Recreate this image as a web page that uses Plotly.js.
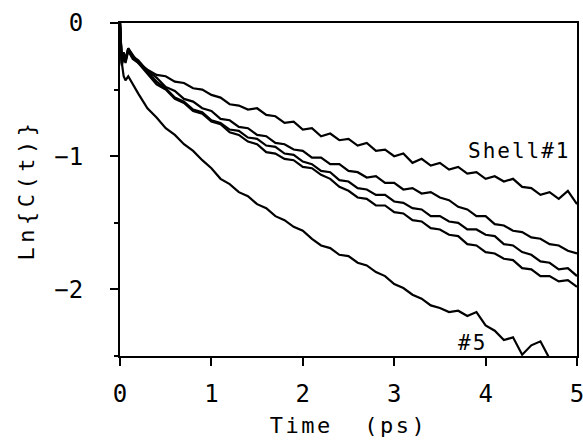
<!DOCTYPE html>
<html>
<head>
<meta charset="utf-8">
<script src="https://cdn.plot.ly/plotly-3.0.1.min.js"></script>
<style>
  html, body { margin: 0; padding: 0; background: #fff; }
  #chart { width: 583px; height: 442px; }
  .xtitle { letter-spacing: 2.5px; }
  .ytitle { letter-spacing: 4.5px; }
  .annotation-text { letter-spacing: 2px; }
</style>
</head>
<body>
<div id="chart"></div>
<script>
// Time (ps)
const time = [0, 0.02, 0.04, 0.06, 0.09, 0.14,
  0.2, 0.3, 0.4, 0.5, 0.6, 0.7, 0.8, 0.9, 1.0,
  1.1, 1.2, 1.3, 1.4, 1.5, 1.6, 1.7, 1.8, 1.9, 2.0,
  2.1, 2.2, 2.3, 2.4, 2.5, 2.6, 2.7, 2.8, 2.9, 3.0,
  3.1, 3.2, 3.3, 3.4, 3.5, 3.6, 3.7, 3.8, 3.9, 4.0,
  4.1, 4.2, 4.3, 4.4, 4.5, 4.6, 4.7, 4.8, 4.9, 5.0];

// Ln{C(t)} for each shell
const shell1 = [0, -0.28, -0.22, -0.27, -0.19, -0.24,
  -0.30, -0.35, -0.39, -0.40, -0.44, -0.45, -0.49, -0.50, -0.54,
  -0.56, -0.61, -0.62, -0.65, -0.64, -0.69, -0.70, -0.75, -0.74, -0.80,
  -0.79, -0.85, -0.83, -0.88, -0.87, -0.92, -0.90, -0.96, -0.95, -1.00,
  -0.98, -1.05, -1.02, -1.07, -1.05, -1.10, -1.08, -1.13, -1.12, -1.17,
  -1.15, -1.19, -1.17, -1.23, -1.24, -1.29, -1.27, -1.32, -1.26, -1.36];

const shell2 = [0, -0.30, -0.23, -0.28, -0.19, -0.25,
  -0.28, -0.36, -0.41, -0.48, -0.51, -0.57, -0.59, -0.64, -0.66,
  -0.72, -0.73, -0.78, -0.79, -0.84, -0.85, -0.90, -0.91, -0.95, -0.96,
  -1.01, -1.01, -1.06, -1.06, -1.11, -1.12, -1.16, -1.15, -1.20, -1.20,
  -1.25, -1.24, -1.28, -1.27, -1.31, -1.33, -1.38, -1.40, -1.45, -1.45,
  -1.51, -1.52, -1.56, -1.57, -1.61, -1.62, -1.66, -1.67, -1.71, -1.73];

const shell3 = [0, -0.31, -0.24, -0.29, -0.20, -0.26,
  -0.29, -0.37, -0.44, -0.49, -0.56, -0.59, -0.65, -0.67, -0.73,
  -0.75, -0.80, -0.81, -0.86, -0.87, -0.92, -0.93, -0.98, -0.99, -1.04,
  -1.06, -1.11, -1.12, -1.18, -1.19, -1.24, -1.25, -1.29, -1.29, -1.34,
  -1.35, -1.39, -1.40, -1.45, -1.45, -1.49, -1.50, -1.55, -1.55, -1.59,
  -1.60, -1.66, -1.67, -1.72, -1.74, -1.79, -1.80, -1.85, -1.84, -1.90];

const shell4 = [0, -0.32, -0.25, -0.30, -0.21, -0.27,
  -0.30, -0.38, -0.46, -0.50, -0.57, -0.60, -0.66, -0.68, -0.74,
  -0.76, -0.82, -0.84, -0.89, -0.91, -0.97, -0.98, -1.02, -1.03, -1.08,
  -1.09, -1.14, -1.17, -1.23, -1.26, -1.31, -1.32, -1.37, -1.37, -1.42,
  -1.43, -1.48, -1.49, -1.54, -1.55, -1.59, -1.60, -1.66, -1.67, -1.72,
  -1.73, -1.77, -1.78, -1.84, -1.85, -1.90, -1.90, -1.94, -1.93, -1.98];

const shell5 = [0, -0.30, -0.40, -0.43, -0.40, -0.46,
  -0.53, -0.64, -0.71, -0.79, -0.84, -0.91, -0.96, -1.03, -1.09,
  -1.17, -1.21, -1.27, -1.30, -1.36, -1.39, -1.45, -1.48, -1.53, -1.56,
  -1.62, -1.67, -1.69, -1.74, -1.75, -1.80, -1.82, -1.87, -1.90, -1.96,
  -1.99, -2.04, -2.07, -2.12, -2.14, -2.17, -2.16, -2.20, -2.17, -2.27,
  -2.31, -2.38, -2.36, -2.49, -2.42, -2.39, -2.52, -2.56, -2.60, -2.65];

const series = [shell1, shell2, shell3, shell4, shell5];
const xTicks = [0, 1, 2, 3, 4, 5];
const xTickText = ['0', '1', '2', '3', '4', '5'];
const yTicks = [0, -1, -2];
const yTickText = ['0', '\u22121', '\u22122'];

const FONT = 'DejaVu Sans Mono, monospace';

const traces = series.map(s => ({
  x: time, y: s, type: 'scatter', mode: 'lines',
  line: {color: '#000', width: 2.2}, showlegend: false, hoverinfo: 'skip'
}));

const layout = {
  width: 583, height: 442,
  margin: {l: 120, r: 6, t: 23, b: 86, pad: 0},
  paper_bgcolor: '#fff', plot_bgcolor: '#fff',
  font: {family: FONT, color: '#000', size: 24},
  showlegend: false,
  xaxis: {
    range: [0, 5], showgrid: false, zeroline: false,
    showline: true, linecolor: '#000', linewidth: 2, mirror: true,
    tickmode: 'array', tickvals: xTicks, ticktext: xTickText,
    ticks: 'outside', ticklen: 8, tickwidth: 2, tickcolor: '#000',
    ticklabelstandoff: 7, ticklabeloverflow: 'allow',
    tickfont: {family: FONT, size: 24, color: '#000'},
    title: {text: 'Time\u00a0\u00a0(ps)', font: {family: FONT, size: 22, color: '#000'}, standoff: 11}
  },
  yaxis: {
    range: [-2.5, 0], showgrid: false, zeroline: false,
    showline: true, linecolor: '#000', linewidth: 2, mirror: true,
    tickmode: 'array', tickvals: yTicks, ticktext: yTickText,
    ticks: 'outside', ticklen: 8, tickwidth: 2, tickcolor: '#000',
    ticklabelstandoff: 22, ticklabeloverflow: 'allow',
    minor: {dtick: 0.5, ticks: 'outside', ticklen: 4, tickwidth: 2, tickcolor: '#000', showgrid: false},
    tickfont: {family: FONT, size: 24, color: '#000'},
    title: {text: 'Ln{C(t)}', font: {family: FONT, size: 22, color: '#000'}, standoff: 14}
  },
  annotations: [
    {x: 4.37, y: -0.96, xref: 'x', yref: 'y', text: 'Shell#1', showarrow: false,
     font: {family: FONT, size: 21, color: '#000'}},
    {x: 3.86, y: -2.40, xref: 'x', yref: 'y', text: '#5', showarrow: false,
     font: {family: FONT, size: 21, color: '#000'}}
  ]
};

Plotly.newPlot('chart', traces, layout, {displayModeBar: false, staticPlot: true});
</script>
</body>
</html>
